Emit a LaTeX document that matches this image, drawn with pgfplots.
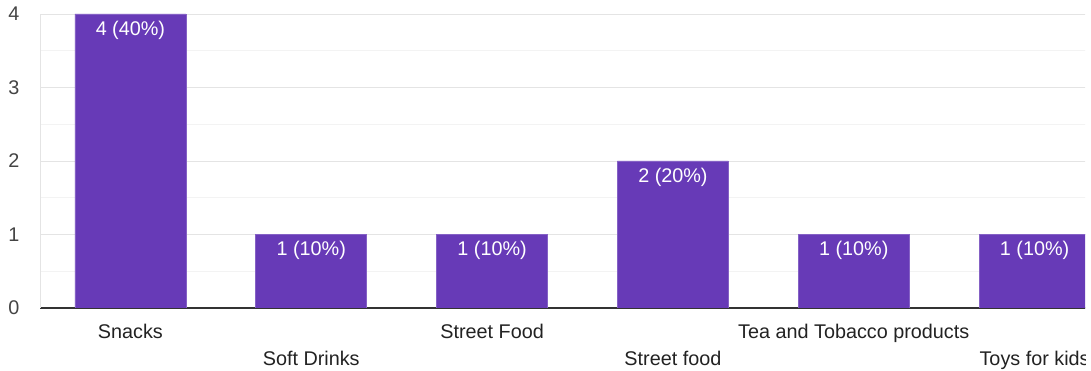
\documentclass[border=0pt]{standalone}
\usepackage{pgfplots}
\pgfplotsset{compat=1.18}
\usepackage{fontspec}
\setmainfont{Liberation Sans}
\definecolor{barpurple}{HTML}{673AB7}
\definecolor{majgrid}{HTML}{E4E4E4}
\definecolor{mingrid}{HTML}{F3F3F3}
\definecolor{basecol}{HTML}{333333}
\definecolor{tickcol}{HTML}{444444}
\definecolor{labcol}{HTML}{222222}
\begin{document}
\begin{tikzpicture}
\begin{scope}
\clip (0,0) rectangle (1085pt,371pt);
\begin{axis}[
  at={(40pt,63pt)}, anchor=south west,
  scale only axis, width=1085pt, height=294pt,
  xmin=-0.5, xmax=5.5, ymin=0, ymax=4,
  ybar, bar width=111pt,
  axis lines*=left,
  x axis line style={draw=basecol, line width=1.6pt},
  y axis line style={draw=majgrid, line width=0.8pt},
  ytick={0,1,2,3,4},
  minor ytick={0.5,1.5,2.5,3.5},
  ymajorgrids, yminorgrids,
  major grid style={draw=majgrid, line width=0.8pt},
  minor grid style={draw=mingrid, line width=0.8pt},
  major tick length=0pt, minor tick length=0pt,
  tick style={draw=none},
  /pgf/number format/assume math mode=true,
  yticklabel style={font=\fontsize{19.8}{22}\selectfont, text=tickcol, anchor=center, xshift=-26pt},
  xtick={0,2,4},
  xticklabels={Snacks, Street Food, Tea and Tobacco products},
  xticklabel style={font=\fontsize{19.8}{22}\selectfont, text=labcol, anchor=base, yshift=-31pt},
  extra x ticks={1,3,5},
  extra x tick labels={Soft Drinks, Street food, Toys for kids},
  extra x tick style={xticklabel style={yshift=-27pt}, grid=none},
  point meta=explicit symbolic,
  nodes near coords,
  nodes near coords style={font=\fontsize{19.8}{22}\selectfont, text=white, anchor=center, yshift=-16pt},
]
\addplot[fill=barpurple, draw=barpurple!80!white, line width=0.6pt] coordinates {
  (0,4) [4 (40\%)]
  (1,1) [1 (10\%)]
  (2,1) [1 (10\%)]
  (3,2) [2 (20\%)]
  (4,1) [1 (10\%)]
  (5,1) [1 (10\%)]
};
\end{axis}
\end{scope}
\pgfresetboundingbox
\path[use as bounding box] (0,0) rectangle (1091pt,371pt);
\end{tikzpicture}
\end{document}
